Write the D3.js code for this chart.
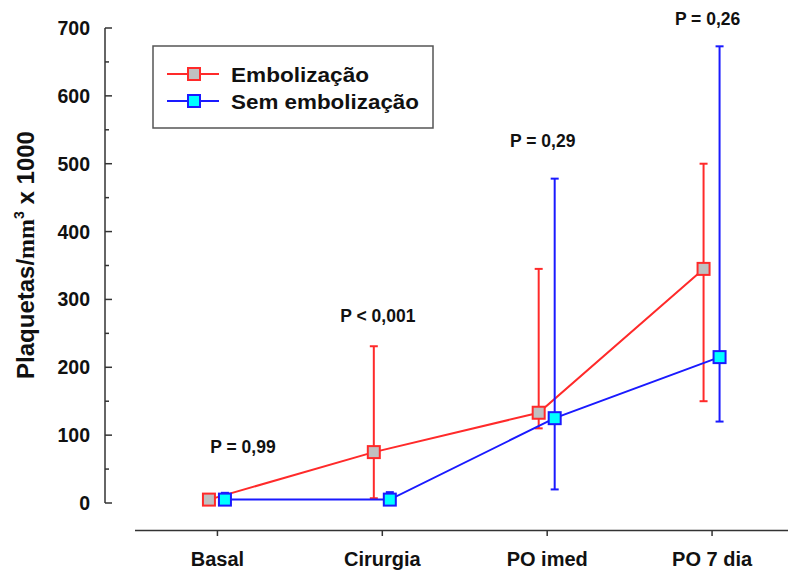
<!DOCTYPE html>
<html>
<head>
<meta charset="utf-8">
<script src="https://cdn.jsdelivr.net/npm/d3@7"></script>
<style>
  body { margin: 0; background: #fff; }
  svg { display: block; font-family: "Liberation Sans", Arial, sans-serif; }
</style>
</head>
<body>
<svg id="chart" width="788" height="578"></svg>
<script>
// data
const categories = ["Basal", "Cirurgia", "PO imed", "PO 7 dia"];
const embMean = [5, 75, 133, 345];
const embLow = [3, 7, 110, 150];
const embHigh = [8, 231, 345, 500];
const semMean = [5, 5, 125, 215];
const semLow = [3, 3, 20, 120];
const semHigh = [15, 16, 478, 673];
const pLabels = ["P = 0,99", "P < 0,001", "P = 0,29", "P = 0,26"];
const pValuesY = [74, 267, 525, 704]; // baseline of each p label in data units
const yTicks = [0, 100, 200, 300, 400, 500, 600, 700];

const svg = d3.select("#chart");

const x = d3.scalePoint().domain(categories).range([134.5, 794]).padding(0.5);
const y = d3.scaleLinear().domain([0, 700]).range([503, 28]);

// y axis, ticks inside
const gy = svg.append("g").attr("transform", "translate(105,0)");
gy.append("line").attr("y1", y(0)).attr("y2", y(700)).attr("stroke", "#333").attr("stroke-width", 1.5);
d3.range(0, 701, 50).forEach(v => {
  gy.append("line")
    .attr("x1", 0).attr("x2", v % 100 === 0 ? 7 : 4)
    .attr("y1", y(v)).attr("y2", y(v))
    .attr("stroke", "#333").attr("stroke-width", 1.5);
});
gy.selectAll("text.tl")
  .data(yTicks)
  .enter().append("text")
    .attr("class", "tl")
    .attr("x", -15).attr("y", d => y(d))
    .attr("dy", "0.36em")
    .attr("text-anchor", "end")
    .attr("font-size", 19.5).attr("font-weight", "bold").attr("fill", "#111")
    .text(d => d);

// x axis
const gx = svg.append("g").attr("transform", "translate(0,530)");
gx.call(d3.axisBottom(x).tickSize(6).tickPadding(16).tickSizeOuter(0))
  .call(g => g.select(".domain").attr("stroke", "#333").attr("stroke-width", 1.5))
  .call(g => g.selectAll(".tick line").attr("stroke", "#333").attr("stroke-width", 1.5))
  .call(g => g.selectAll(".tick text")
    .attr("font-size", 20).attr("font-weight", "bold").attr("fill", "#111")
    .attr("font-family", "Liberation Sans, Arial, sans-serif"));

// y title
const title = svg.append("text")
  .attr("transform", "translate(34,255) rotate(-90)")
  .attr("text-anchor", "middle")
  .attr("font-size", 24).attr("font-weight", "bold").attr("fill", "#111");
title.append("tspan").text("Plaquetas/");
title.append("tspan").attr("font-family", "Liberation Serif, Times New Roman, serif").text("mm");
title.append("tspan").attr("font-size", 14).attr("dy", -10).text("3");
title.append("tspan").attr("dy", 10).text(" x 1000");

const series = [
  { name: "Embolização", mean: embMean, low: embLow, high: embHigh, off: -8, stroke: "#ff2a2a", fill: "#c0c0c0", w: 138 },
  { name: "Sem embolização", mean: semMean, low: semLow, high: semHigh, off: 8, stroke: "#1a1aff", fill: "#00ffff", w: 188 }
];

series.forEach(s => {
  const g = svg.append("g");
  const px = i => x(categories[i]) + s.off;
  // error bars
  s.mean.forEach((m, i) => {
    g.append("line")
      .attr("x1", px(i)).attr("x2", px(i))
      .attr("y1", y(s.low[i])).attr("y2", y(s.high[i]))
      .attr("stroke", s.stroke).attr("stroke-width", 2);
    [s.low[i], s.high[i]].forEach(v => {
      g.append("line")
        .attr("x1", px(i) - 4).attr("x2", px(i) + 4)
        .attr("y1", y(v)).attr("y2", y(v))
        .attr("stroke", s.stroke).attr("stroke-width", 2);
    });
  });
  const line = d3.line().x((d, i) => px(i)).y(d => y(d));
  g.append("path")
    .datum(s.mean)
    .attr("fill", "none")
    .attr("stroke", s.stroke)
    .attr("stroke-width", 2)
    .attr("d", line);
  g.selectAll("rect")
    .data(s.mean)
    .enter().append("rect")
      .attr("x", (d, i) => px(i) - 6).attr("y", d => y(d) - 6)
      .attr("width", 12).attr("height", 12)
      .attr("fill", s.fill).attr("stroke", s.stroke).attr("stroke-width", 2);
});

// p labels
svg.selectAll("text.p")
  .data(pLabels)
  .enter().append("text")
    .attr("class", "p")
    .attr("x", (d, i) => x(categories[i]) - 4 + (i === 0 ? 30 : 0))
    .attr("y", (d, i) => y(pValuesY[i]))
    .attr("text-anchor", "middle")
    .attr("font-size", 17.5).attr("font-weight", "bold").attr("fill", "#111")
    .text(d => d);

// legend
const lg = svg.append("g");
lg.append("rect")
  .attr("x", 153).attr("y", 46).attr("width", 280).attr("height", 82)
  .attr("fill", "#fff").attr("stroke", "#555").attr("stroke-width", 1.5);
series.forEach((s, i) => {
  const ly = 74 + i * 27;
  lg.append("line").attr("x1", 167).attr("x2", 219).attr("y1", ly).attr("y2", ly)
    .attr("stroke", s.stroke).attr("stroke-width", 2);
  lg.append("rect").attr("x", 188).attr("y", ly - 6).attr("width", 12).attr("height", 12)
    .attr("fill", s.fill).attr("stroke", s.stroke).attr("stroke-width", 2);
  lg.append("text").attr("x", 231).attr("y", ly).attr("dy", "0.36em")
    .attr("font-size", 21).attr("font-weight", "bold").attr("fill", "#111")
    .attr("textLength", s.w).attr("lengthAdjust", "spacingAndGlyphs")
    .text(s.name);
});
</script>
</body>
</html>
